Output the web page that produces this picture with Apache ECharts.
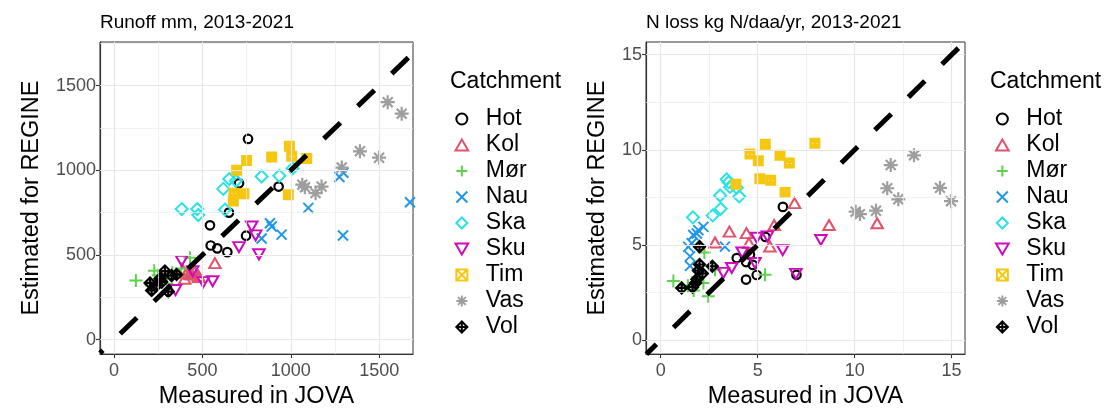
<!DOCTYPE html>
<html><head><meta charset="utf-8">
<script src="https://cdn.jsdelivr.net/npm/echarts@6/dist/echarts.min.js"></script>
<style>html,body{margin:0;padding:0;background:#fff}#c{width:1107px;height:414px}</style>
</head><body><div id="c"></div>
<script>
// ---------- data ----------
const catchments = ['Hot','Kol','Mør','Nau','Ska','Sku','Tim','Vas','Vol'];

// Runoff mm, 2013-2021  [measured JOVA, estimated REGINE]
const runoffHot = [[758,1185],[707,923],[931,904],[650,750],[543,675],[747,614],[547,556],[584,539],[641,517]];
const runoffKol = [[571,452],[430,388],[477,378],[410,395],[455,400],[390,410],[480,370],[440,385],[400,360]];
const runoffMor = [[124,350],[228,407],[430,484],[250,380],[300,330],[260,340],[330,395],[380,420],[210,320]];
const runoffNau = [[1099,778],[1674,811],[882,687],[892,668],[835,597],[948,620],[1295,615],[1275,960],[1297,985]];
const runoffSka = [[383,771],[471,771],[477,736],[628,768],[618,890],[652,948],[690,938],[835,963],[935,967],[1010,1011]];
const runoffSku = [[779,668],[801,616],[707,546],[820,504],[383,465],[445,405],[505,340],[558,345],[348,293]];
const runoffTim = [[992,1141],[1005,1083],[892,1079],[750,1058],[694,1000],[1090,1070],[679,865],[735,861],[675,819],[986,855]];
const runoffVas = [[1548,1402],[1627,1334],[1391,1112],[1499,1074],[1288,1016],[1065,915],[1080,900],[1174,904],[1140,865]];
const runoffVol = [[204,335],[213,291],[260,359],[288,405],[326,378],[307,284],[270,340],[354,385],[240,320]];

// N loss kg N/daa/yr, 2013-2021
const nlossHot = [[6.3,7.0],[5.4,5.42],[3.92,4.31],[4.4,4.1],[4.75,3.95],[4.95,3.42],[4.4,3.18],[7.0,3.43],[4.6,4.5]];
const nlossKol = [[6.9,7.2],[8.68,6.05],[11.16,6.14],[3.54,5.7],[4.42,5.62],[2.8,5.13],[5.63,4.92],[5.85,6.04],[4.55,5.1]];
const nlossMor = [[0.65,3.1],[2.45,2.3],[5.38,3.43],[2.25,4.6],[1.7,2.6],[2.2,3.0],[1.4,2.85],[2.8,3.7],[1.9,3.3]];
const nlossNau = [[2.2,5.95],[1.94,5.78],[1.68,5.52],[1.42,4.9],[1.51,4.4],[1.51,3.9],[3.31,4.91],[1.6,5.09],[1.86,5.6]];
const nlossSka = [[3.4,8.45],[3.57,8.05],[3.92,8.0],[4.05,7.55],[3.06,7.6],[3.09,6.9],[2.68,6.55],[1.66,6.45],[3.5,8.3]];
const nlossSku = [[8.26,5.26],[6.29,4.72],[6.97,3.48],[4.86,4.05],[3.66,3.79],[3.23,3.53],[4.95,5.38],[4.2,4.6],[5.5,5.45]];
const nlossTim = [[7.95,10.35],[5.39,10.29],[4.6,9.78],[5.03,9.43],[6.15,9.71],[6.63,9.31],[5.11,8.48],[5.67,8.4],[3.88,8.19],[6.41,7.76]];
const nlossVas = [[13.06,9.71],[11.86,9.2],[11.68,7.98],[12.25,7.4],[14.4,8.0],[14.97,7.3],[10.27,6.62],[11.1,6.8],[10.05,6.75]];
const nlossVol = [[2.0,4.91],[2.0,3.97],[2.66,3.88],[1.08,2.74],[1.64,2.78],[1.86,3.19],[2.15,3.5],[1.94,3.65],[1.8,3.0]];

const runoffTicks = [0,500,1000,1500];
const runoffMinor = [250,750,1250,1750];
const nlossTicks = [0,5,10,15];
const nlossMinor = [2.5,7.5,12.5];
const runoffXRange = [-79,1691];
const runoffYRange = [-85,1757];
const nlossXRange = [-0.76,15.69];
const nlossYRange = [-0.74,15.67];

const panelTitles = ['Runoff mm, 2013-2021','N loss kg N/daa/yr, 2013-2021'];
const xTitle = 'Measured in JOVA';
const yTitle = 'Estimated for REGINE';
const legendTitle = 'Catchment';

// ---------- styles ----------
const colors = ['#000000','#DF536B','#61D04F','#2297E6','#28E2E5','#CD0BBC','#F5C710','#9E9E9E','#000000'];
const symbols = [
  'circle',
  'path://M5 0 L10 8.66 L0 8.66 Z',
  'path://M5 0 L5 10 M0 5 L10 5',
  'path://M0 0 L10 10 M10 0 L0 10',
  'path://M5 0 L10 5 L5 10 L0 5 Z',
  'path://M0 0 L10 0 L5 8.66 Z',
  'path://M0 0 L10 0 L10 10 L0 10 Z M0 0 L10 10 M10 0 L0 10',
  'path://M5 0 L5 10 M0 5 L10 5 M1.46 1.46 L8.54 8.54 M8.54 1.46 L1.46 8.54',
  'path://M5 0 L10 5 L5 10 L0 5 Z M5 0 L5 10 M0 5 L10 5'
];
const symSizes = [8.5,[11.5,10],13,10,12,[11.5,10],8,14,11];
const strokeW = [2.2,2,2,2,2,2,3,2.2,2.2];

const panels = [
  {data:[runoffHot,runoffKol,runoffMor,runoffNau,runoffSka,runoffSku,runoffTim,runoffVas,runoffVol],
   ticks:runoffTicks, minor:runoffMinor, xr:runoffXRange, yr:runoffYRange, dashOffset:19},
  {data:[nlossHot,nlossKol,nlossMor,nlossNau,nlossSka,nlossSku,nlossTim,nlossVas,nlossVol],
   ticks:nlossTicks, minor:nlossMinor, xr:nlossXRange, yr:nlossYRange, dashOffset:9}
];

const FONT = 'Liberation Sans, Arial, sans-serif';
const gridPos = [{left:100,top:42,width:313,height:318},{left:646,top:42,width:319,height:317.3}];
const yNameGap = [56,36];
const fmt = v => String(v);

const series = [];
const xAxes = [], yAxes = [];
panels.forEach((p, pi) => {
  const gl = [];
  p.minor.forEach(v => { gl.push({xAxis:v, lineStyle:{color:'#EBEBEB',width:0.7}}); gl.push({yAxis:v, lineStyle:{color:'#EBEBEB',width:0.7}}); });
  p.ticks.forEach(v => { gl.push({xAxis:v, lineStyle:{color:'#E6E6E6',width:1.2}}); gl.push({yAxis:v, lineStyle:{color:'#E6E6E6',width:1.2}}); });
  series.push({type:'line', name:'grid'+pi, xAxisIndex:pi, yAxisIndex:pi, data:[], z:0, silent:true,
    markLine:{silent:true, symbol:['none','none'], animation:false, label:{show:false}, emphasis:{disabled:true},
      lineStyle:{type:'solid'}, data:gl}});
  catchments.forEach((c, ci) => {
    series.push({type:'scatter', name:c, xAxisIndex:pi, yAxisIndex:pi, data:p.data[ci],
      symbol:symbols[ci], symbolSize:symSizes[ci], z:2+ci*0.01,
      itemStyle:{color:'rgba(0,0,0,0)', borderColor:colors[ci], borderWidth:strokeW[ci], opacity:1},
      emphasis:{disabled:true}});
  });
  const lo = Math.max(p.xr[0], p.yr[0]), hi = Math.min(p.xr[1], p.yr[1]);
  series.push({type:'line', name:'1:1', xAxisIndex:pi, yAxisIndex:pi, data:[[lo,lo],[hi,hi]], z:5,
    symbol:'none', silent:true,
    lineStyle:{color:'#000', width:5, type:[23,24], dashOffset:p.dashOffset, cap:'butt'}});
  xAxes.push({type:'value', gridIndex:pi, min:p.xr[0], max:p.xr[1],
    axisLine:{show:true, onZero:false, lineStyle:{color:'#333', width:1.2}},
    axisTick:{show:true, length:4, customValues:p.ticks, lineStyle:{color:'#333', width:1.1}},
    axisLabel:{customValues:p.ticks, formatter:fmt, fontSize:18, color:'#4D4D4D', margin:8, fontFamily:FONT},
    splitLine:{show:false},
    name:xTitle, nameLocation:'middle', nameGap:30, nameTextStyle:{fontSize:23.5, color:'#000', fontFamily:FONT}});
  yAxes.push({type:'value', gridIndex:pi, min:p.yr[0], max:p.yr[1],
    axisLine:{show:true, onZero:false, lineStyle:{color:'#333', width:1.2}},
    axisTick:{show:true, length:4, customValues:p.ticks, lineStyle:{color:'#333', width:1.1}},
    axisLabel:{customValues:p.ticks, formatter:fmt, fontSize:18, color:'#4D4D4D', margin:4, fontFamily:FONT},
    splitLine:{show:false},
    name:yTitle, nameLocation:'middle', nameGap:yNameGap[pi], nameRotate:90, nameTextStyle:{fontSize:23.5, color:'#000', fontFamily:FONT}});
});

const chart = echarts.init(document.getElementById('c'), null, {renderer:'canvas'});
const tStyle = (s) => ({fontSize:s, fontWeight:'normal', color:'#000', fontFamily:FONT});
chart.setOption({
  animation:false,
  textStyle:{fontFamily:FONT},
  title:[
    {text:panelTitles[0], left:100, top:13, padding:0, textStyle:tStyle(19)},
    {text:panelTitles[1], left:646, top:13, padding:0, textStyle:tStyle(19)},
    {text:legendTitle, left:450, top:70, padding:0, textStyle:tStyle(23)},
    {text:legendTitle, left:990, top:70, padding:0, textStyle:tStyle(23)}
  ],
  legend:[
    {data:catchments, orient:'vertical', left:449.5, top:102.5, itemWidth:38, itemHeight:11, itemGap:3, selectedMode:false,
     textStyle:{fontSize:23, lineHeight:22.3, color:'#000', fontFamily:FONT}},
    {data:catchments, orient:'vertical', left:990, top:102.5, itemWidth:38, itemHeight:11, itemGap:3, selectedMode:false,
     textStyle:{fontSize:23, lineHeight:22.3, color:'#000', fontFamily:FONT}}
  ],
  grid:gridPos.map(g => Object.assign({show:true, borderColor:'#333', borderWidth:1, backgroundColor:'#fff', containLabel:false}, g)),
  xAxis:xAxes,
  yAxis:yAxes,
  series:series
});
</script></body></html>
